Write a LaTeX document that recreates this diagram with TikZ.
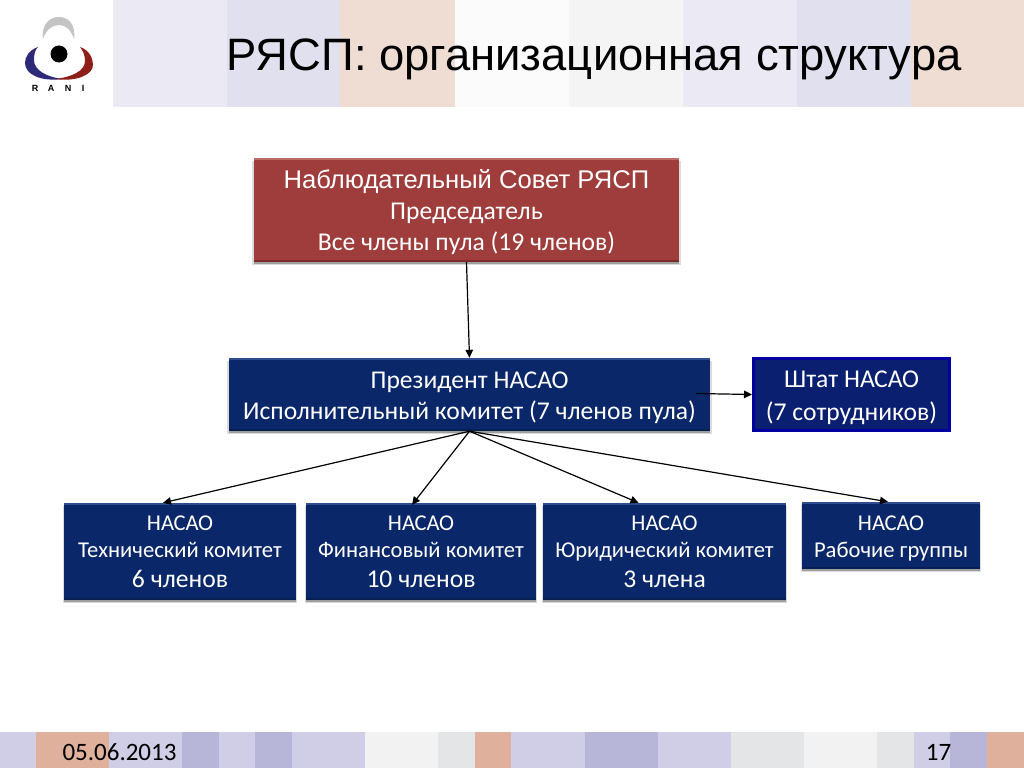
\documentclass[tikz,border=0pt]{standalone}
\usepackage{fontspec}
\setmainfont{Carlito}
\newfontfamily\arialf{Liberation Sans}
\usetikzlibrary{shadows,arrows.meta}
\definecolor{lil}{HTML}{CFCEE6}
\definecolor{drk}{HTML}{B7B5D8}
\definecolor{pch}{HTML}{DFB09B}
\definecolor{gry}{HTML}{F2F2F3}
\definecolor{gr2}{HTML}{E4E5E6}
\definecolor{t1}{HTML}{EAE9F4}
\definecolor{t2}{HTML}{E0E0EF}
\definecolor{t3}{HTML}{EFDDD4}
\definecolor{t4}{HTML}{FBFBFB}
\definecolor{t5}{HTML}{F4F4F5}
\definecolor{navyb}{HTML}{0A2769}
\definecolor{navyl}{HTML}{2F4D8E}
\definecolor{navyd}{HTML}{071F52}
\definecolor{redb}{HTML}{9E3D3B}
\definecolor{redl}{HTML}{BC6B69}
\definecolor{redd}{HTML}{7C2D2B}
\definecolor{staffb}{HTML}{0A1F70}
\definecolor{staffe}{HTML}{0000A0}
\definecolor{logog}{HTML}{C4C4C4}
\definecolor{logob}{HTML}{2E2A78}
\definecolor{logor}{HTML}{8E1E1A}
\tikzset{
  bevelbox/.style n args={3}{fill=#1,text=white,align=center,inner sep=0pt,
    drop shadow={shadow xshift=0pt,shadow yshift=-3pt,shadow scale=1.008,fill=black,opacity=.14},
    drop shadow={shadow xshift=0pt,shadow yshift=-1.5pt,fill=black,opacity=.28},
    path picture={
      \fill[#2] (path picture bounding box.north west) rectangle ([yshift=-2pt]path picture bounding box.north east);
      \fill[#3] (path picture bounding box.south west) rectangle ([yshift=2pt]path picture bounding box.south east);
    }},
  navybox/.style={bevelbox={navyb}{navyl}{navyd}},
  redbox/.style={bevelbox={redb}{redl}{redd}},
  staffbox/.style={fill=staffb,draw=staffe,line width=3pt,text=white,align=center,inner sep=0pt},
  conn/.style={draw=black,line width=1.2pt,-{Triangle[length=8pt,width=7.5pt]}},
  ftxt/.style={inner sep=0pt,text=black,font=\fontsize{25}{30}\selectfont},
  lettr/.style={inner sep=0pt,text=black,font=\arialf\bfseries\fontsize{9}{11}\selectfont},
  big/.style={font=\fontsize{25.6}{31}\selectfont},
  small/.style={font=\fontsize{22.6}{27}\selectfont}
}
\newcommand{\bandT}[3]{\fill[#3] (#1,0) rectangle (#2,107);}
\newcommand{\bandB}[3]{\fill[#3] (#1,732) rectangle (#2,768);}
\newcommand{\fbig}{\fontsize{25.6}{31}\selectfont}
\newcommand{\pushdown}[1]{\rule{0pt}{#1pt}}
\begin{document}
\begin{tikzpicture}[x=1pt,y=-1pt]
\useasboundingbox (0,0) rectangle (1024,768);
\fill[white] (0,0) rectangle (1024,768);
% top band
\bandT{113}{227}{t1}\bandT{227}{340}{t2}\bandT{340}{455}{t3}\bandT{455}{569}{t4}
\bandT{569}{683}{t5}\bandT{683}{797}{t1}\bandT{797}{911}{t2}\bandT{911}{1024}{t3}
% bottom band
\bandB{0}{36}{lil}\bandB{36}{109}{pch}\bandB{109}{182}{lil}\bandB{182}{219}{drk}
\bandB{219}{255}{lil}\bandB{255}{292}{drk}\bandB{292}{365}{lil}\bandB{365}{438}{gry}
\bandB{438}{475}{gr2}\bandB{475}{511}{pch}\bandB{511}{585}{lil}\bandB{585}{658}{drk}
\bandB{658}{731}{lil}\bandB{731}{804}{gr2}\bandB{804}{877}{gry}\bandB{877}{914}{gr2}
\bandB{914}{950}{lil}\bandB{950}{987}{drk}\bandB{987}{1024}{pch}
% logo
\fill[logog] (43,39) .. controls (41,24) and (50,17) .. (59,17)
  .. controls (68,17) and (76,24) .. (74,39)
  .. controls (71,30) and (66,25) .. (59,25)
  .. controls (52,25) and (46,30) .. (43,39) -- cycle;
\fill[logob] (38,47) .. controls (29,50) and (25,57) .. (25,63)
  .. controls (25,74) and (40,82) .. (63,79)
  .. controls (46,77) and (34,70) .. (34,60)
  .. controls (34,54) and (35,50) .. (38,47) -- cycle;
\fill[logor] (80,47) .. controls (89,50) and (93,58) .. (93,65)
  .. controls (93,75) and (76,82) .. (55,79)
  .. controls (72,77) and (85,71) .. (85,61)
  .. controls (85,55) and (83,51) .. (80,47) -- cycle;
\fill[black] (59,54) circle (8.5);
\node[lettr] (lr) at (35,88) {R};
\node[lettr] (la) at (51,88) {A};
\node[lettr] (ln) at (68,88) {N};
\node[lettr] (li) at (83,88) {I};
% title
\node[inner sep=0pt,text=black,font=\arialf\fontsize{45.4}{54}\selectfont] (title) at (594,59) {РЯСП: организационная структура};
% boxes
\node[redbox,big,minimum width=425pt,minimum height=104pt] (red) at (466.5,210)
  {\pushdown{24}{\arialf Наблюдательный Совет РЯСП}\\Председатель\\Все члены пула (19 членов)};
\node[navybox,big,minimum width=481pt,minimum height=73pt] (pres) at (469.5,394.5)
  {\pushdown{24}Президент НАСАО\\Исполнительный комитет (7 членов пула)};
\node[staffbox,big,minimum width=196pt,minimum height=72pt] (staff) at (851.5,394.5)
  {\pushdown{23}Штат НАСАО\\[2pt](7 сотрудников)};
\node[navybox,small,minimum width=232pt,minimum height=97pt] (tech) at (180,551.5)
  {НАСАО\\Технический комитет\\[3pt]{\fbig 6 членов}};
\node[navybox,small,minimum width=230pt,minimum height=97pt] (fin) at (421,551.5)
  {НАСАО\\Финансовый комитет\\[3pt]{\fbig 10 членов}};
\node[navybox,small,minimum width=243pt,minimum height=97pt] (jur) at (664.5,551.5)
  {НАСАО\\Юридический комитет\\[3pt]{\fbig 3 члена}};
\node[navybox,small,minimum width=178pt,minimum height=67pt] (wg) at (891,535.5)
  {\pushdown{21}НАСАО\\Рабочие группы};
% footer
\node[ftxt] (date) at (119.5,752.5) {05.06.2013};
\node[ftxt] (page) at (938.5,752.5) {17};
% connectors
\draw[conn] (red.south) -- (pres.north);
\draw[conn] ([xshift=-14pt,yshift=1pt]pres.east) -- (staff.west);
\draw[conn] (pres.south) -- ([xshift=-17pt]tech.north);
\draw[conn] (pres.south) -- ([xshift=-9pt,yshift=-2pt]fin.north);
\draw[conn] (pres.south) -- ([xshift=-26pt]jur.north);
\draw[conn] (pres.south) -- ([xshift=-3pt]wg.north);
\end{tikzpicture}
\end{document}
